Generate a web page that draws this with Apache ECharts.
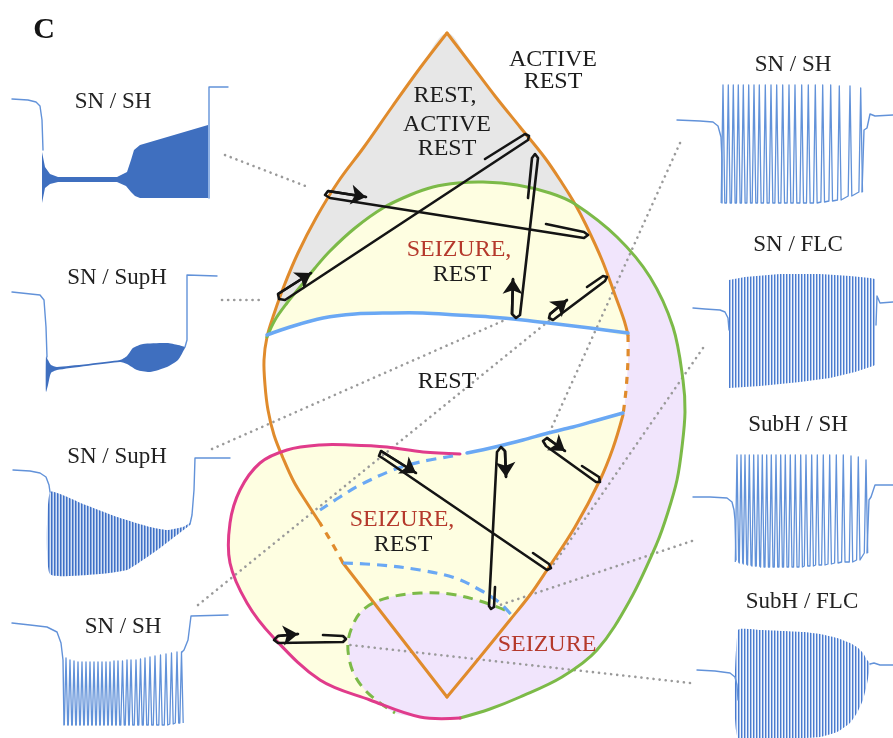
<!DOCTYPE html>
<html>
<head>
<meta charset="utf-8">
<script src="https://cdn.jsdelivr.net/npm/echarts@6/dist/echarts.min.js"></script>
<style>
  html, body { margin: 0; padding: 0; background: #fff; }
  #c { width: 893px; height: 738px; }
</style>
</head>
<body>
<div id="c"></div>
<script>
// ---------- Parameter map boundaries (figure units, y downward) ----------
const lensLeftUpper = [[447,33],[420,68],[392,107],[364,147],[338,182],[316,218],[298,253],[284,286],[274,314],[267,337]];
const lensLeftLower = [[320,523],[307,503],[294,482],[283,458],[274,435],[268,410],[265,385],[264,360],[267,337]];
const orangeLeftDash = [[343,563],[332,543],[320,523]];
const orangeBottomL = [[447,697],[343,563]];
const orangeBottomR = [[510,620],[480,657],[447,697]];
const orangeRightLow = [[623,415],[613,448],[600,480],[575,527],[547,570],[530,595],[510,620]];
const orangeRightDash = [[628,335],[628,360],[626,390],[623,415]];
const orangeRightMid = [[575,204],[586,225],[602,260],[615,295],[624,320],[628,335]];
const orangeRightTop = [[447,33],[470,63],[495,96],[520,127],[545,158],[562,183],[575,204]];

const greenTop = [[267,337],[275,320],[287,303],[300,287],[315,268],[330,251],[355,228],[383,208],[410,195],[433,187],[458,183],[483,182],[517,185],[550,193],[575,204]];
const greenOuter = [[575,204],[617,237],[650,277],[673,327],[683,380],[685,412],[682,447],[677,480],[668,512],[657,543],[630,600],[597,650],[562,677],[520,697],[490,709],[460,718]];
const greenDashed = [[505,610],[480,601],[450,594],[420,593],[395,596],[373,603],[360,613],[352,627],[348,642],[349,658],[354,674],[365,690],[380,703],[395,713]];

const pinkLoop = [[460,454],[423,452],[387,447],[350,445],[320,445],[287,450],[260,463],[240,490],[230,523],[230,563],[247,603],[273,637],[320,680],[370,700],[420,717],[460,718]];

const blueUpper = [[267,335],[290,327],[323,318],[355,314],[390,313],[423,313],[457,315],[490,317],[523,320],[557,324],[590,328],[628,333]];
const blueLower = [[467,453],[495,447],[523,440],[548,433],[573,427],[598,420],[623,413]];
const blueDashedUpper = [[453,456],[420,462],[393,470],[360,485],[340,497],[320,510]];
const blueDashedLower = [[343,563],[380,565],[420,570],[455,578],[480,590],[500,603],[513,617]];

// ---------- Hysteresis trajectories ----------
const trajectories = [
  [[485,159],[525,134],[529,136],[528,140],[285,300],[279,299],[278,294],[311,273]],
  [[546,224],[584,232],[588,235],[584,238],[330,198],[325,195],[328,191],[366,197]],
  [[528,198],[532,158],[535,154],[538,158],[520,315],[516,318],[512,314],[513,279]],
  [[587,287],[603,276],[607,277],[605,281],[553,320],[549,318],[550,314],[567,300]],
  [[533,553],[549,564],[551,568],[547,570],[384,459],[379,456],[381,451],[416,473]],
  [[495,587],[494,607],[491,609],[489,606],[497,452],[501,447],[505,451],[506,477]],
  [[582,466],[599,477],[600,482],[596,482],[546,446],[543,441],[547,438],[565,451]],
  [[323,635],[343,636],[346,639],[343,642],[278,643],[274,640],[278,636],[298,634]]
];

// ---------- Dotted connectors between traces and map points ----------
const connectors = [
  [[225,155],[308,187]],
  [[222,300],[263,300]],
  [[212,449],[505,320]],
  [[198,605],[550,320]],
  [[680,143],[547,438]],
  [[703,348],[551,568]],
  [[692,541],[497,606]],
  [[690,683],[350,645]]
];

// ---------- Voltage traces ----------
// SN / SH (left, top)
const tr1Pre = [[12,99],[28,100],[36,102],[40,106],[42,120],[43,150]];
const tr1Upper = [[42,152],[45,167],[50,174],[58,177],[117,177],[127,172],[131,160],[134,150],[140,145],[208,125]];
const tr1Lower = [[42,203],[45,188],[50,184],[58,182],[117,182],[126,186],[131,192],[135,196],[140,198],[208,198]];
const tr1Post = [[209,198],[209,87],[228,87]];
// SN / SupH (left, second)
const tr2Pre = [[12,292],[40,295],[44,300],[46,327],[47,357]];
const tr2Upper = [[46,356],[48,360],[51,365],[57,367],[120,360],[127,356],[133,348],[143,344],[167,343],[178,345],[185,347]];
const tr2Lower = [[46,392],[48,385],[51,373],[57,370],[120,362],[127,364],[137,370],[150,372],[167,367],[178,360],[185,348]];
const tr2Post = [[185,347],[187,340],[187,275],[217,276]];
// SN / SupH (left, third)
const tr3Pre = [[13,470],[30,471],[40,473],[46,477],[49,485],[50,492]];
const tr3Upper = [[50,492],[83,504],[117,517],[150,527],[167,530],[183,527],[190,523]];
const tr3Lower = [[50,574],[100,574],[127,570],[143,560],[160,548],[177,535],[190,525]];
const tr3Post = [[190,524],[192,515],[194,490],[195,458],[230,458]];
// SN / SH (left, bottom)
const tr4Pre = [[12,623],[30,625],[47,627],[57,632],[61,643],[63,660],[64,725]];
const tr4SpikeT = [66,70,74,78,82,86,90,94,98,102,106,110,114,118,122.5,127,131,136,140.5,145,150,155,160.5,166,171.5,177,181.5];
const tr4SpikeHi = [658,660,661,662,662,662,662,662,662,662,662,662,661,661,661,660,660,660,659,658,657,656,655,654,653,652,652];
const tr4SpikeLo = [725,725,725,725,725,725,725,725,725,725,725,725,725,725,725,725,725,725,725,725,725,725,725,725,724,723,723];
const tr4Post = [[182,652],[184,650],[188,640],[191,616],[228,615]];
// SN / SH (right, top)
const tr5Pre = [[677,120],[700,121],[713,122],[718,126],[721,137],[722,160],[722,203]];
const tr5SpikeT = [723,728.3,733.3,738.3,743.3,748.7,754,759.3,765.3,771,776.7,782.7,789,795,801.7,808.3,815.3,822.7,830.7,839.3,850,860.7];
const tr5SpikeHi = [85,85,85,85,85,85,85,85,85,85,85,85,85,85,85,85,85,85,85,86,86,88];
const tr5SpikeLo = [203,203,203,203,203,203,203,203,203,203,203,203,203,203,203,203,203,202,201,200,196,192];
const tr5Post = [[862,192],[864,130],[867,128],[870,114],[875,116],[893,115]];
// SN / FLC
const tr6Pre = [[693,308],[705,309],[720,310],[725,312],[728,318],[729,330]];
const tr6Upper = [[729,280],[745,277],[780,274],[820,274],[850,276],[870,278],[875,279]];
const tr6Lower = [[729,388],[760,386],[800,382],[830,378],[855,372],[873,366],[875,365]];
const tr6Post = [[876,325],[877,296],[880,303],[893,302]];
// SubH / SH
const tr7Pre = [[693,497],[710,497],[727,498],[732,502],[734,510],[735,520],[736,560]];
const tr7SpikeT = [737,741,745,749.3,753.7,758,762.3,766.7,771.3,776,780.7,785.3,790.3,795.3,800.7,806,811.7,817.3,823.3,829.7,836.3,843.3,851,858.3,866];
const tr7SpikeHi = [455,455,455,455,455,455,455,455,455,455,455,455,455,455,455,455,455,455,455,455,455,455,456,457,460];
const tr7SpikeLo = [562,563,564,565,566,566,567,567,567,567,567,567,567,567,567,566,566,565,565,564,563,562,562,560,553];
const tr7Post = [[867,553],[869,500],[871,497],[875,485],[893,485]];
// SubH / FLC
const tr8Pre = [[697,670],[715,671],[730,673],[735,677],[737,685],[738,700]];
const tr8Upper = [[738,630],[760,630],[803,632],[820,634],[837,638],[850,643],[857,647],[863,653],[867,660],[870,663]];
const tr8Lower = [[738,738],[803,738],[820,737],[837,732],[850,723],[857,713],[863,700],[867,684],[870,667]];
const tr8Post = [[870,664],[874,663],[880,665],[893,665]];

// ---------- Text ----------
const traceTitles = ['SN / SH','SN / SupH','SN / SupH','SN / SH','SN / SH','SN / FLC','SubH / SH','SubH / FLC'];
const regionWords = ['ACTIVE','REST','REST,','ACTIVE','REST','SEIZURE,','REST','REST','SEIZURE,','REST','SEIZURE'];

// ---------- Styling / layout ----------
const COL = {
  orange: '#e08b2c', green: '#7cba48', pink: '#e03b8b', blue: '#6aa8f4',
  gray: '#e7e7e7', yellow: '#fefee1', lavender: '#f1e5fc',
  trace: '#6292d9', traceDark: '#3f6fbf', ink: '#141414', red: '#b5392c', dots: '#9a9a9a'
};
const SERIF = '"Liberation Serif", "Times New Roman", serif';
const titleAnchors = [[113,102],[117,278],[117,457],[123,627],[793,65],[798,245],[798,425],[802,602]];
const regionAnchors = [[553,60],[553,82],[445,96],[447,125],[447,149],[459,250],[462,275],[447,382],[402,520],[403,545],[547,645]];
const regionIsRed = [false,false,false,false,false,true,false,false,true,false,true];

const rev = a => a.slice().reverse();
const cat = (...parts) => parts.reduce((acc, p) => acc.concat(acc.length ? p.slice(1) : p), []);

function stripes(colors) {
  const c = document.createElement('canvas');
  c.width = colors.length; c.height = 4;
  const g = c.getContext('2d');
  colors.forEach((col, i) => { g.fillStyle = col; g.fillRect(i, 0, 1, 4); });
  return { image: c, repeat: 'repeat' };
}
const lightOsc = stripes(['#4a7bcf', '#a9c2ea', '#f2f6fd']);
const midOsc = stripes(['#3f70c6', '#86a7de', '#d3e0f4']);

// Filled areas of the map and oscillation envelopes
const regions = [
  { pts: cat(rev(lensLeftUpper), orangeRightTop, rev(greenTop)), fill: COL.gray, smooth: 0.35 },
  { pts: cat(greenTop, orangeRightMid, rev(blueUpper)), fill: COL.yellow, smooth: 0.35 },
  { pts: blueLower.concat(orangeRightLow.slice(1), orangeBottomR.slice(1), [[460,718]], rev(pinkLoop).slice(1)), fill: COL.yellow, smooth: 0.35 },
  { pts: cat(orangeRightMid, orangeRightDash, orangeRightLow).concat(greenDashed, [[420,717]], rev(greenOuter)), fill: COL.lavender, smooth: 0.35 },
  { pts: tr1Upper.concat(rev(tr1Lower)), fill: COL.traceDark, smooth: 0 },
  { pts: tr2Upper.concat(rev(tr2Lower)), fill: COL.traceDark, smooth: 0.2 },
  { pts: tr3Upper.concat(rev(tr3Lower)), fill: midOsc, smooth: 0.15 },
  { pts: tr6Upper.concat(rev(tr6Lower)), fill: lightOsc, smooth: 0 },
  { pts: tr8Upper.concat(rev(tr8Lower)), fill: lightOsc, smooth: 0.15 }
];

// Stroked curves
const strokes = [
  { pts: cat(lensLeftUpper, rev(lensLeftLower)), color: COL.orange, w: 3 },
  { pts: cat(orangeRightTop, orangeRightMid), color: COL.orange, w: 3 },
  { pts: orangeRightDash, color: COL.orange, w: 3.2, dash: [7, 7] },
  { pts: cat(orangeRightLow, orangeBottomR), color: COL.orange, w: 3 },
  { pts: orangeBottomL, color: COL.orange, w: 3 },
  { pts: orangeLeftDash, color: COL.orange, w: 3.2, dash: [7, 7] },
  { pts: cat(greenTop, greenOuter), color: COL.green, w: 3 },
  { pts: greenDashed, color: COL.green, w: 3, dash: [10, 7] },
  { pts: pinkLoop, color: COL.pink, w: 3 },
  { pts: blueUpper, color: COL.blue, w: 3.5 },
  { pts: blueLower, color: COL.blue, w: 3.5 },
  { pts: blueDashedUpper, color: COL.blue, w: 3.2, dash: [10, 7] },
  { pts: blueDashedLower, color: COL.blue, w: 3.2, dash: [10, 7] },
  // trace baselines
  { pts: tr1Pre, color: COL.trace, w: 1.4, sharp: true },
  { pts: tr1Post, color: COL.trace, w: 1.4, sharp: true },
  { pts: tr2Pre, color: COL.trace, w: 1.4, sharp: true },
  { pts: tr2Post, color: COL.trace, w: 1.4, sharp: true },
  { pts: tr3Pre, color: COL.trace, w: 1.4, sharp: true },
  { pts: tr3Post, color: COL.trace, w: 1.4, sharp: true },
  { pts: tr4Pre, color: COL.trace, w: 1.4, sharp: true },
  { pts: tr4Post, color: COL.trace, w: 1.4, sharp: true },
  { pts: tr5Pre, color: COL.trace, w: 1.4, sharp: true },
  { pts: tr5Post, color: COL.trace, w: 1.4, sharp: true },
  { pts: tr6Pre, color: COL.trace, w: 1.4, sharp: true },
  { pts: tr6Post, color: COL.trace, w: 1.4, sharp: true },
  { pts: tr7Pre, color: COL.trace, w: 1.4, sharp: true },
  { pts: tr7Post, color: COL.trace, w: 1.4, sharp: true },
  { pts: tr8Pre, color: COL.trace, w: 1.4, sharp: true },
  { pts: tr8Post, color: COL.trace, w: 1.4, sharp: true }
];

// Spike trains: time, peak and trough per spike, grouped per trace
const spikeTrains = [
  { t: tr4SpikeT, hi: tr4SpikeHi, lo: tr4SpikeLo, half: 1.7 },
  { t: tr5SpikeT, hi: tr5SpikeHi, lo: tr5SpikeLo, half: 1.8 },
  { t: tr7SpikeT, hi: tr7SpikeHi, lo: tr7SpikeLo, half: 1.7 }
];

const SMOOTH = 0.35;

const option = {
  animation: false,
  backgroundColor: '#fff',
  grid: { left: 0, right: 0, top: 0, bottom: 0 },
  xAxis: { type: 'value', min: 0, max: 893, show: false },
  yAxis: { type: 'value', min: 0, max: 738, inverse: true, show: false },
  series: [
    {
      type: 'custom', coordinateSystem: 'cartesian2d', silent: true, clip: false, z: 1,
      data: regions.map((_, i) => [i, 0]),
      renderItem: (params, api) => {
        const r = regions[params.dataIndex];
        return {
          type: 'polygon',
          shape: { points: r.pts.map(p => api.coord(p)), smooth: r.smooth },
          style: { fill: r.fill, stroke: null }
        };
      }
    },
    {
      type: 'custom', coordinateSystem: 'cartesian2d', silent: true, clip: false, z: 2,
      data: spikeTrains.map((_, i) => [i, 0]),
      renderItem: (params, api) => {
        const s = spikeTrains[params.dataIndex];
        const pts = [];
        s.t.forEach((t, k) => {
          const top = api.coord([t, s.hi[k]]);
          const bot = api.coord([t, s.lo[k]]);
          pts.push([top[0] - s.half, bot[1]], top, [top[0] + s.half, bot[1]]);
        });
        return {
          type: 'polyline', shape: { points: pts },
          style: { stroke: COL.trace, lineWidth: 1.3, fill: null, lineJoin: 'round' }
        };
      }
    },
    ...connectors.map(seg => ({
      type: 'line', data: seg, z: 3, silent: true, showSymbol: false, symbol: 'none',
      lineStyle: { color: COL.dots, width: 2.6, type: [0.1, 6], cap: 'round' }
    })),
    {
      type: 'custom', coordinateSystem: 'cartesian2d', silent: true, clip: false, z: 4,
      data: strokes.map((_, i) => [i, 0]),
      renderItem: (params, api) => {
        const s = strokes[params.dataIndex];
        return {
          type: 'polyline',
          shape: { points: s.pts.map(p => api.coord(p)), smooth: s.sharp ? 0 : SMOOTH },
          style: { stroke: s.color, lineWidth: s.w, fill: null, lineDash: s.dash || null, lineCap: s.dash ? 'butt' : 'round', lineJoin: 'round' }
        };
      }
    },
    {
      type: 'lines', coordinateSystem: 'cartesian2d', polyline: true, silent: true, z: 5,
      data: trajectories.map(c => ({ coords: c })),
      lineStyle: { color: COL.ink, width: 2.6, opacity: 1, cap: 'round', join: 'round' }
    },
    {
      type: 'lines', coordinateSystem: 'cartesian2d', silent: true, z: 6,
      symbol: ['none', 'arrow'], symbolSize: 15,
      data: trajectories.map(c => ({ coords: c.slice(-2) })),
      lineStyle: { color: COL.ink, width: 2.6, opacity: 1 }
    }
  ],
  graphic: [
    { type: 'text', x: 44, y: 30, z: 10, style: { text: 'C', font: 'bold 30px ' + SERIF, fill: COL.ink, align: 'center', verticalAlign: 'middle' } },
    ...traceTitles.map((t, i) => ({
      type: 'text', x: titleAnchors[i][0], y: titleAnchors[i][1], z: 10,
      style: { text: t, font: '23px ' + SERIF, fill: '#222', align: 'center', verticalAlign: 'middle' }
    })),
    ...regionWords.map((t, i) => ({
      type: 'text', x: regionAnchors[i][0], y: regionAnchors[i][1], z: 10,
      style: { text: t, font: '24px ' + SERIF, fill: regionIsRed[i] ? COL.red : '#1c1c1c', align: 'center', verticalAlign: 'middle' }
    }))
  ]
};

const chart = echarts.init(document.getElementById('c'));
chart.setOption(option);
</script>
</body>
</html>
